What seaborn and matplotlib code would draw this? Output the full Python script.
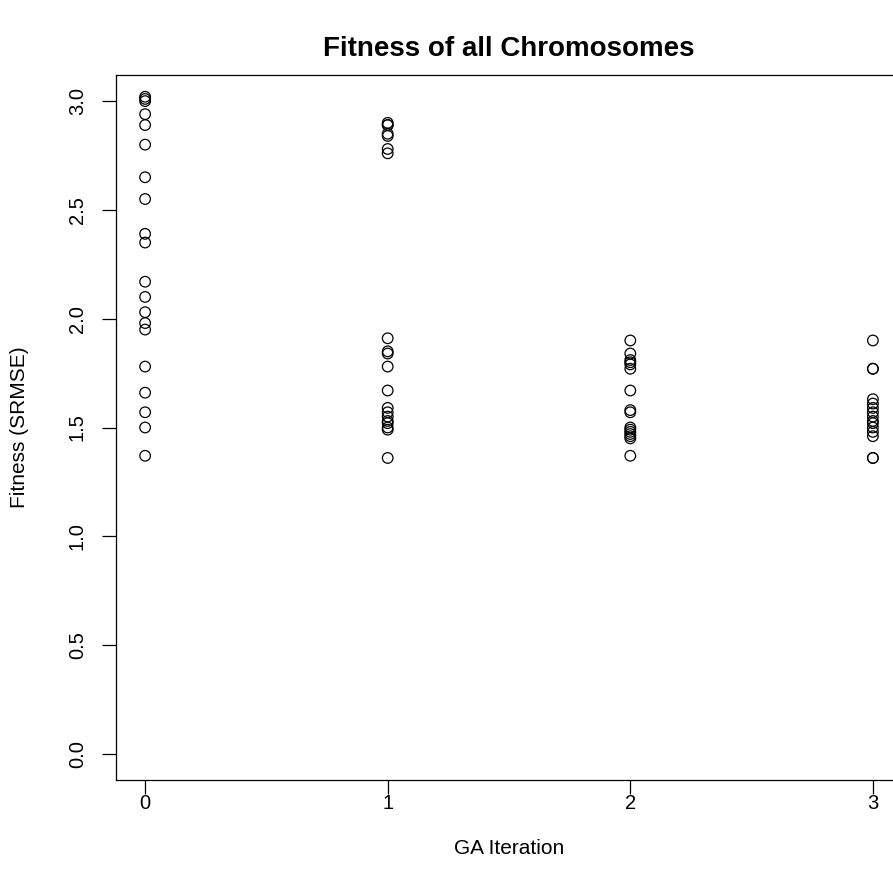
import pandas as pd
import seaborn as sns
import matplotlib.pyplot as plt

# fitness values, one list per GA iteration
iter0 = [3.02, 3.01, 3.00, 2.94, 2.89, 2.80, 2.65, 2.55, 2.39, 2.35,
         2.17, 2.10, 2.03, 1.98, 1.95, 1.78, 1.66, 1.57, 1.50, 1.37]
iter1 = [2.90, 2.89, 2.89, 2.85, 2.84, 2.78, 2.76, 1.91, 1.85, 1.84,
         1.78, 1.67, 1.59, 1.57, 1.55, 1.53, 1.52, 1.50, 1.49, 1.36]
iter2 = [1.90, 1.84, 1.81, 1.80, 1.79, 1.77, 1.67, 1.58, 1.57, 1.50,
         1.49, 1.48, 1.47, 1.46, 1.45, 1.37]
iter3 = [1.90, 1.77, 1.77, 1.63, 1.61, 1.59, 1.57, 1.55, 1.53, 1.52,
         1.50, 1.48, 1.46, 1.36, 1.36]

iterations = [0, 1, 2, 3]
y_ticks = [0.0, 0.5, 1.0, 1.5, 2.0, 2.5, 3.0]

# long format table
rows = []
for it, vals in zip(iterations, [iter0, iter1, iter2, iter3]):
    for v in vals:
        rows.append({'iteration': it, 'fitness': v})
df = pd.DataFrame(rows)

sns.set_style('ticks')
plt.rcParams['font.family'] = ['Liberation Sans', 'DejaVu Sans']
plt.rcParams['text.color'] = 'black'
plt.rcParams['axes.labelcolor'] = 'black'
plt.rcParams['xtick.color'] = 'black'
plt.rcParams['ytick.color'] = 'black'

fig = plt.figure(figsize=(8.93, 8.93), dpi=100)
ax = fig.add_axes([116 / 893, 1 - 780 / 893, 786 / 893, 705 / 893])

sns.scatterplot(data=df, x='iteration', y='fitness', ax=ax,
                facecolors='none', edgecolor='black', linewidth=0.9, s=58)

ax.set_xlim(-0.12, 3.12)
ax.set_ylim(-0.12, 3.12)
ax.set_xticks(iterations)
ax.set_xticklabels([str(i) for i in iterations])
ax.set_yticks(y_ticks)
ax.set_yticklabels([f'{t:.1f}' for t in y_ticks], rotation=90, va='center')
ax.tick_params(axis='both', length=10, width=0.9, labelsize=14.5, color='black')
ax.tick_params(axis='x', pad=0)
ax.tick_params(axis='y', pad=11)

for sp in ax.spines.values():
    sp.set_visible(True)
    sp.set_linewidth(0.9)
    sp.set_color('black')

ax.set_xlabel('GA Iteration', fontsize=15, labelpad=19)
ax.set_ylabel('Fitness (SRMSE)', fontsize=15, labelpad=28)
ax.set_title('Fitness of all Chromosomes', fontsize=20, fontweight='bold', pad=14)

fig.savefig('out.png', dpi=100)
